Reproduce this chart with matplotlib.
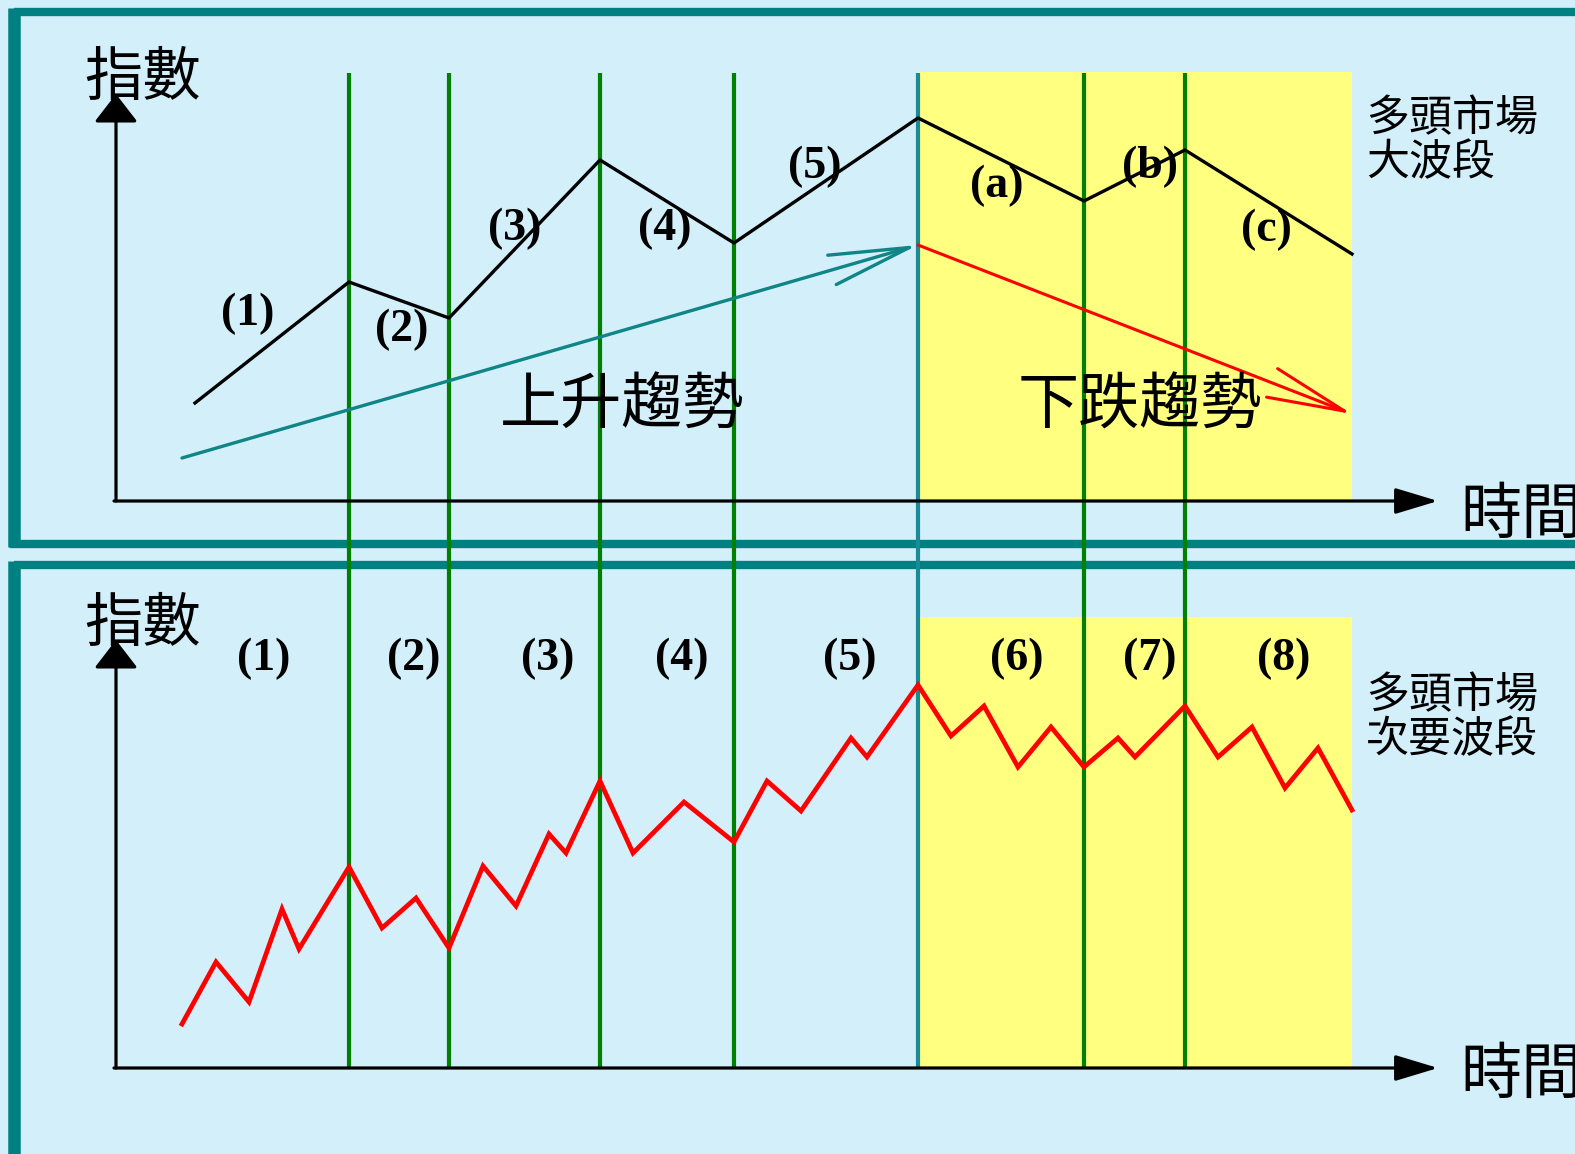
import matplotlib
matplotlib.use('Agg')
import matplotlib.pyplot as plt
from matplotlib.patches import Rectangle

plt.rcParams['font.family'] = ['Noto Sans CJK TC', 'DejaVu Sans']

# 分界線位置 (水平像素座標)
split_x = [349, 449, 600, 734, 918, 1084, 1185]

# 上圖：大波段
major_x = [195, 349, 449, 600, 734, 918, 1084, 1185, 1352]
major_y = [403, 282, 318, 160, 243, 118, 201, 150, 254]
major_labels = ['(1)', '(2)', '(3)', '(4)', '(5)', '(a)', '(b)', '(c)']
major_lx = [248, 402, 515, 665, 815, 997, 1150, 1266]
major_ly = [314, 330, 229, 229, 167, 186, 167, 230]

# 趨勢線
up_trend_x = [182, 918]
up_trend_y = [458, 245]
down_trend_x = [918, 1352]
down_trend_y = [245, 414]

# 下圖：次要波段
minor_x = [182, 216, 249, 282, 299, 349, 382, 416, 449, 483, 516, 549, 566, 600,
           633, 684, 734, 767, 801, 851, 867, 918, 951, 984, 1018, 1051, 1084,
           1118, 1135, 1185, 1218, 1252, 1285, 1318, 1352]
minor_y = [1024, 962, 1002, 909, 949, 867, 928, 898, 948, 866, 906, 834, 853, 781,
           853, 802, 842, 781, 811, 738, 757, 685, 736, 706, 767, 727, 767,
           738, 757, 706, 757, 727, 788, 748, 810]
minor_labels = ['(1)', '(2)', '(3)', '(4)', '(5)', '(6)', '(7)', '(8)']
minor_lx = [264, 414, 548, 682, 850, 1017, 1150, 1284]
minor_ly = 659

W, H = 1575, 1154
fig = plt.figure(figsize=(W / 100, H / 100), dpi=100)
fig.patch.set_facecolor('#d2effa')
ax = fig.add_axes([0, 0, 1, 1])
ax.set_xlim(0, W)
ax.set_ylim(H, 0)
ax.axis('off')

teal = '#008080'
green = '#008000'
yellow = '#ffff80'

# 黃色區塊 (下跌段)
ax.add_patch(Rectangle((918, 72), 1352 - 918, 501 - 72, facecolor=yellow, edgecolor='none', zorder=1))
ax.add_patch(Rectangle((918, 617), 1352 - 918, 1068 - 617, facecolor=yellow, edgecolor='none', zorder=1))

# 外框
ax.add_patch(Rectangle((14, 11.5), W, 532, facecolor='none', edgecolor=teal, lw=6.0, zorder=2))
ax.add_patch(Rectangle((14, 564.5), W, 600, facecolor='none', edgecolor=teal, lw=6.0, zorder=2))
ax.plot([14, 14], [8, 547], color=teal, lw=9, solid_capstyle='butt', zorder=2)
ax.plot([14, 14], [561, H], color=teal, lw=9, solid_capstyle='butt', zorder=2)

# 座標軸
for y0, ytip in [(501, 94), (1068, 640)]:
    ax.annotate('', xy=(116, ytip), xytext=(116, y0),
                arrowprops=dict(arrowstyle='-|>,head_length=1.75,head_width=1.35',
                                mutation_scale=10, lw=2.3, color='black',
                                shrinkA=0, shrinkB=0), zorder=4)
    ax.annotate('', xy=(1438, y0), xytext=(114, y0),
                arrowprops=dict(arrowstyle='-|>,head_length=2.65,head_width=0.8',
                                mutation_scale=10, lw=2.3, color='black',
                                shrinkA=0, shrinkB=0), zorder=4)

# 分界線
for i, x in enumerate(split_x):
    c = '#1a8a96' if i == 4 else green
    ax.plot([x, x], [73, 1068], color=c, lw=3.0, zorder=3, solid_capstyle='butt')

# 大波段
ax.plot(major_x, major_y, color='black', lw=2.4, zorder=5)

# 趨勢箭頭
ax.annotate('', xy=(up_trend_x[1], up_trend_y[1]), xytext=(up_trend_x[0], up_trend_y[0]),
            arrowprops=dict(arrowstyle='->,head_length=2.9,head_width=0.55',
                            mutation_scale=20, lw=2.4, color='#0f8585',
                            shrinkA=0, shrinkB=0), zorder=5)
ax.annotate('', xy=(down_trend_x[1], down_trend_y[1]), xytext=(down_trend_x[0], down_trend_y[0]),
            arrowprops=dict(arrowstyle='->,head_length=2.8,head_width=0.55',
                            mutation_scale=20, lw=2.2, color='red',
                            shrinkA=0, shrinkB=0), zorder=5)

# 次要波段
ax.plot(minor_x, minor_y, color='red', lw=3.4, zorder=5, solid_joinstyle='miter')

# 文字
lab = dict(family='Liberation Serif', weight='bold', fontsize=33,
           ha='center', va='center', zorder=6)
for t, x, y in zip(major_labels, major_lx, major_ly):
    ax.text(x, y, t, **lab)
for t, x in zip(minor_labels, minor_lx):
    ax.text(x, minor_ly, t, **lab)

cjk = dict(family=['Noto Sans CJK TC', 'DejaVu Sans'], weight='light', zorder=6)
ax.text(143, 78, '指數', fontsize=42, ha='center', va='center', **cjk)
ax.text(143, 624, '指數', fontsize=42, ha='center', va='center', **cjk)
ax.text(1460, 516, '時間', fontsize=44, ha='left', va='center', **cjk)
ax.text(1460, 1076, '時間', fontsize=44, ha='left', va='center', **cjk)
ax.text(622, 406, '上升趨勢', fontsize=44, ha='center', va='center', **cjk)
ax.text(1140, 406, '下跌趨勢', fontsize=44, ha='center', va='center', **cjk)
ax.text(1366, 141, '多頭市場\n大波段', fontsize=31, ha='left', va='center',
        linespacing=1.0, **cjk)
ax.text(1366, 718, '多頭市場\n次要波段', fontsize=31, ha='left', va='center',
        linespacing=1.0, **cjk)

fig.savefig('out.png', dpi=100, facecolor=fig.get_facecolor())
